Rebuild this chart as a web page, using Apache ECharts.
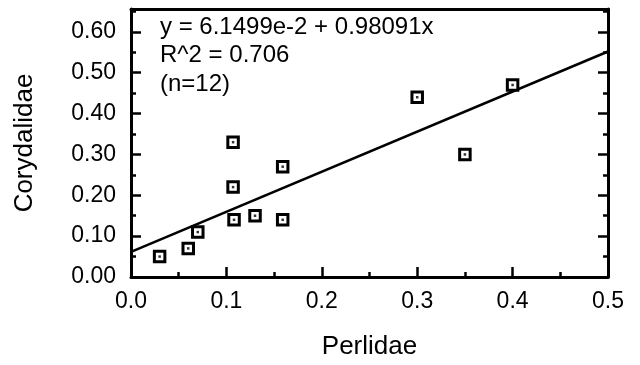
<!DOCTYPE html>
<html>
<head>
<meta charset="utf-8">
<script src="https://cdn.jsdelivr.net/npm/echarts@6/dist/echarts.min.js"></script>
<style>
html,body{margin:0;padding:0;background:#fff;}
#chart{width:640px;height:365px;}
</style>
</head>
<body>
<div id="chart"></div>
<script>
var perlidae = [0.03, 0.06, 0.07, 0.107, 0.107, 0.108, 0.13, 0.159, 0.159, 0.30, 0.35, 0.40];
var corydalidae = [0.05, 0.07, 0.11, 0.33, 0.22, 0.14, 0.15, 0.27, 0.14, 0.44, 0.30, 0.47];
var fitLineX = [0, 0.5];
var fitLineY = [0.0615, 0.5520];
var xTicks = ['0.0', '0.1', '0.2', '0.3', '0.4', '0.5'];
var yTicks = ['0.00', '0.10', '0.20', '0.30', '0.40', '0.50', '0.60'];
var annotation = ['y = 6.1499e-2 + 0.98091x', 'R^2 = 0.706', '(n=12)'];

var points = perlidae.map(function (x, i) { return [x, corydalidae[i]]; });
var fit = fitLineX.map(function (x, i) { return [x, fitLineY[i]]; });

var FONT = 'Liberation Sans';
var chart = echarts.init(document.getElementById('chart'), null, {renderer: 'canvas'});

function fmt(list, dec) {
  return function (v) {
    var s = v.toFixed(dec);
    return list.indexOf(s) >= 0 && Math.abs(v * 10 - Math.round(v * 10)) < 1e-6 ? s : '';
  };
}

var lineStyle = {color: '#000', width: 3};
var tickStyle = {color: '#000', width: 2.5};
chart.setOption({
  animation: false,
  backgroundColor: '#fff',
  grid: {left: 131, right: 32, top: 9, bottom: 88, containLabel: false},
  xAxis: [{
    type: 'value', min: 0, max: 0.5, interval: 0.1,
    name: 'Perlidae', nameLocation: 'middle', nameGap: 57,
    nameTextStyle: {fontFamily: FONT, fontSize: 26, color: '#000'},
    axisLine: {show: true, onZero: false, lineStyle: lineStyle},
    axisTick: {show: true, inside: true, length: 10, lineStyle: tickStyle},
    minorTick: {show: true, splitNumber: 2, length: 5, lineStyle: tickStyle},
    axisLabel: {fontFamily: FONT, fontSize: 23, color: '#000', margin: 13, formatter: fmt(xTicks, 1)},
    splitLine: {show: false}
  }, {
    type: 'value', min: 0, max: 0.5, position: 'top',
    axisLine: {show: true, onZero: false, lineStyle: lineStyle},
    axisTick: {show: false}, axisLabel: {show: false}, splitLine: {show: false}
  }],
  yAxis: [{
    type: 'value', min: 0, max: 0.656, interval: 0.1,
    name: 'Corydalidae', nameLocation: 'middle', nameGap: 93, nameRotate: 90,
    nameTextStyle: {fontFamily: FONT, fontSize: 26, color: '#000'},
    axisLine: {show: true, onZero: false, lineStyle: lineStyle},
    axisTick: {show: true, inside: true, length: 10, lineStyle: tickStyle},
    minorTick: {show: true, splitNumber: 2, length: 5, lineStyle: tickStyle},
    axisLabel: {fontFamily: FONT, fontSize: 23, color: '#000', margin: 15, formatter: fmt(yTicks, 2)},
    splitLine: {show: false}
  }, {
    type: 'value', min: 0, max: 0.656, interval: 0.1, position: 'right',
    axisLine: {show: true, onZero: false, lineStyle: lineStyle},
    axisTick: {show: true, inside: true, length: 10, lineStyle: tickStyle},
    minorTick: {show: true, splitNumber: 2, length: 5, lineStyle: tickStyle},
    axisLabel: {show: false}, splitLine: {show: false}
  }],
  series: [{
    type: 'line', data: fit, showSymbol: false, symbol: 'none',
    lineStyle: {color: '#000', width: 2.5}, z: 2
  }, {
    type: 'scatter', data: points, symbol: 'rect', symbolSize: 10.5,
    itemStyle: {color: '#fff', borderColor: '#000', borderWidth: 3, opacity: 1}, z: 3
  }, {
    type: 'scatter', data: points, symbol: 'rect', symbolSize: 2.5,
    itemStyle: {color: '#000'}, z: 4
  }],
  graphic: [{
    type: 'text', left: 160, top: 13,
    style: {text: annotation.join('\n'), fontFamily: FONT, fontSize: 24, lineHeight: 28.5, fill: '#000'}
  }]
});
</script>
</body>
</html>
